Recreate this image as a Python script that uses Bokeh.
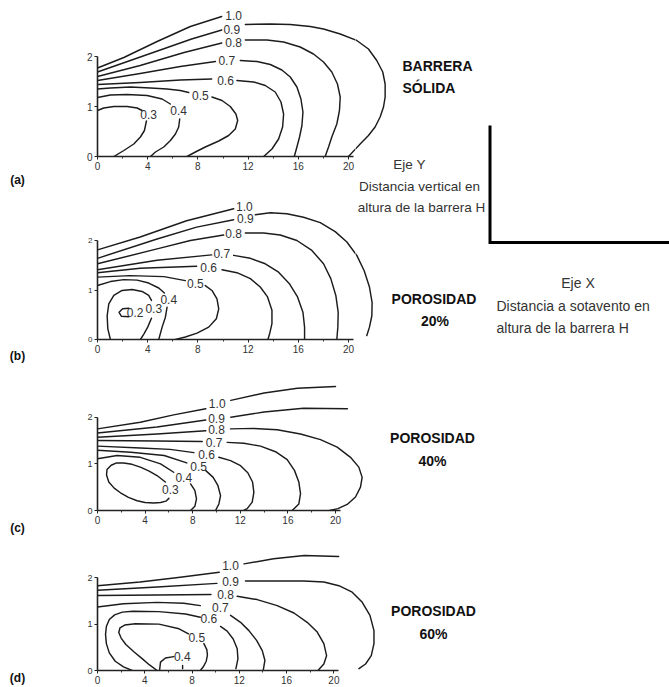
from math import nan
import numpy as np
from bokeh.plotting import figure
from bokeh.models import Label, Range1d, FixedTicker
from bokeh.layouts import row, column
from bokeh.embed import file_html
from bokeh.resources import INLINE

# ---------------- axis ticks ----------------
X_TICKS = [0, 4, 8, 12, 16, 20]
X_MINOR = [2, 6, 10, 14, 18]
Y_TICKS = [0, 1, 2]

# ---------------- (a) barrera sólida : contour lines (x: distance/H, y: height/H) --------
a_10_x = [0, 2.1, 4.75, 7.4, 9.9]
a_10_y = [1.77, 1.98, 2.3, 2.6, 2.8]
a_09_x = [0, 2.5, 5.0, 7.5, 9.9, nan, 11.78, 13.77, 15.36, 16.95, 18.01, 19.34, 20.66, 21.59,
          22.25, 22.73, 22.92, 22.92, 22.79, 22.52, 22.12, 21.59, 20.93, 20.0]
a_09_y = [1.69, 1.91, 2.13, 2.35, 2.53, nan, 2.64, 2.65, 2.64, 2.6, 2.55, 2.45, 2.32, 2.15,
          1.92, 1.69, 1.45, 1.19, 0.99, 0.79, 0.59, 0.42, 0.25, 0.0]
a_08_x = [0, 3.4, 6.9, 9.9, nan, 11.78, 13.5, 14.83, 16.15, 17.21, 18.01, 18.67, 19.12, 19.34,
          19.28, 19.07, 18.67, 18.41, 18.14]
a_08_y = [1.6, 1.82, 2.08, 2.27, nan, 2.33, 2.33, 2.29, 2.19, 2.05, 1.89, 1.69, 1.45, 1.19,
          0.92, 0.65, 0.39, 0.19, 0.0]
a_07_x = [0, 3.4, 6.6, 9.4, nan, 11.38, 12.71, 13.77, 14.69, 15.36, 15.89, 16.21, 16.37, 16.29,
          16.1, 15.89, 15.68]
a_07_y = [1.52, 1.66, 1.8, 1.9, nan, 1.92, 1.9, 1.84, 1.73, 1.59, 1.39, 1.15, 0.89, 0.62,
          0.39, 0.19, 0.0]
a_06_x = [0, 3.4, 6.6, 9.1, nan, 11.11, 12.44, 13.37, 14.16, 14.62, 14.83, 14.75, 14.43, 13.9, 13.24]
a_06_y = [1.44, 1.48, 1.53, 1.55, nan, 1.52, 1.49, 1.42, 1.29, 1.09, 0.85, 0.59, 0.35, 0.15, 0.0]
a_05_x = [0, 1.03, 2.63, 4.22, 5.54, 6.6, 7.27, nan, 9.12, 9.92, 10.58, 11.03, 11.17, 10.98,
          10.45, 9.66, 8.59, 7.8, 7.14]
a_05_y = [1.35, 1.37, 1.39, 1.37, 1.35, 1.32, 1.28, nan, 1.19, 1.12, 1.0, 0.85, 0.72, 0.55,
          0.42, 0.31, 0.19, 0.09, 0.0]
a_04_x = [0, 1.03, 2.36, 3.95, 5.15, 5.8, nan, 6.55, 6.47, 6.21, 5.81, 5.28, 4.62, 4.22]
a_04_y = [1.18, 1.23, 1.24, 1.22, 1.15, 1.05, nan, 0.75, 0.59, 0.45, 0.32, 0.19, 0.09, 0.0]
a_03_x = [0, 0.5, 1.3, 2.36, 3.16, 3.55, nan, 3.9, 3.74, 3.42, 2.89, 2.1, 1.3]
a_03_y = [0.92, 0.97, 1.0, 1.0, 0.97, 0.92, nan, 0.71, 0.52, 0.39, 0.25, 0.12, 0.0]
a_lab_t = ["1.0", "0.9", "0.8", "0.7", "0.6", "0.5", "0.4", "0.3"]
a_lab_x = [10.85, 10.7, 10.85, 10.3, 10.2, 8.2, 6.47, 4.08]
a_lab_y = [2.82, 2.55, 2.29, 1.92, 1.53, 1.22, 0.92, 0.85]

# ---------------- (b) porosidad 20% ----------------
b_10_x = [0, 3.4, 7.1, 10.85]
b_10_y = [1.81, 2.07, 2.4, 2.64]
b_09_x = [0, 4.75, 7.9, 10.85, nan, 12.57, 13.77, 15.09, 16.42, 17.75, 18.94, 19.87, 20.66,
          21.25, 21.67, 21.88, 21.86, 21.67, 21.46]
b_09_y = [1.64, 2.03, 2.27, 2.42, nan, 2.52, 2.56, 2.54, 2.47, 2.36, 2.18, 1.97, 1.7,
          1.39, 1.06, 0.75, 0.48, 0.25, 0.08]
b_08_x = [0, 4.75, 7.4, 10.05, nan, 11.78, 13.24, 14.56, 15.89, 17.08, 18.01, 18.59, 18.99,
          19.18, 19.15, 19.07]
b_08_y = [1.53, 1.83, 2.0, 2.11, nan, 2.15, 2.15, 2.11, 2.0, 1.8, 1.53, 1.23, 0.89,
          0.55, 0.25, 0.0]
b_07_x = [0, 4.75, 9.1, nan, 10.85, 12.18, 13.37, 14.43, 15.31, 15.94, 16.37, 16.5, 16.5]
b_07_y = [1.41, 1.6, 1.71, nan, 1.7, 1.64, 1.53, 1.36, 1.12, 0.86, 0.55, 0.25, 0.0]
b_06_x = [0, 3.4, 7.9, nan, 9.92, 11.11, 12.18, 12.97, 13.55, 13.9, 13.9, 13.71, 13.58]
b_06_y = [1.35, 1.44, 1.48, nan, 1.41, 1.35, 1.23, 1.06, 0.86, 0.59, 0.32, 0.11, 0.0]
b_05_x = [0, 2.6, 5.3, 7.0, nan, 8.59, 9.12, 9.52, 9.66, 9.47, 8.86, 7.93, 7.0, 6.21]
b_05_y = [1.26, 1.29, 1.27, 1.19, nan, 1.09, 0.99, 0.82, 0.62, 0.42, 0.25, 0.13, 0.05, 0.0]
b_04_x = [0, 1.03, 2.1, 3.16, 4.08, 4.88, 5.33, nan, 5.54, 5.41, 5.15, 4.88]
b_04_y = [1.09, 1.17, 1.21, 1.2, 1.14, 1.04, 0.94, nan, 0.65, 0.45, 0.25, 0.0]
b_03_x = [1.03, 0.82, 0.77, 0.9, 1.3, 1.96, 2.76, 3.55, 4.08, 4.3, nan, 4.3, 4.0, 3.69, 3.42]
b_03_y = [0.0, 0.22, 0.48, 0.72, 0.89, 0.99, 1.01, 0.97, 0.89, 0.79, nan, 0.43, 0.25, 0.11, 0.0]
b_02_x = [2.5, 2.0, 1.72, 1.9, 2.5]
b_02_y = [0.63, 0.62, 0.55, 0.47, 0.46]
b_lab_t = ["1.0", "0.9", "0.8", "0.7", "0.6", "0.5", "0.4", "0.3", "0.2"]
b_lab_x = [11.7, 11.78, 10.85, 9.9, 8.86, 7.8, 5.68, 4.48, 3.0]
b_lab_y = [2.69, 2.45, 2.15, 1.73, 1.46, 1.14, 0.81, 0.62, 0.54]

# ---------------- (c) porosidad 40% ----------------
c_10_x = [0, 3.6, 6.4, 9.1, nan, 11.2, 14.0, 16.8, 20.0]
c_10_y = [1.75, 1.89, 2.05, 2.18, nan, 2.36, 2.52, 2.62, 2.66]
c_09_x = [0, 5.0, 9.1, nan, 11.2, 14.0, 17.3, 21.0]
c_09_y = [1.66, 1.79, 1.94, nan, 2.0, 2.11, 2.19, 2.18]
c_08_x = [0, 5.0, 9.1, nan, 11.18, 13.14, 15.1, 17.06, 18.74, 20.14, 21.26, 21.96, 22.24,
          22.1, 21.68, 20.98, 20.2, 19.5]
c_08_y = [1.57, 1.64, 1.71, nan, 1.75, 1.76, 1.73, 1.64, 1.52, 1.36, 1.14, 0.93, 0.71,
          0.5, 0.29, 0.13, 0.04, 0.0]
c_07_x = [0, 5.0, 8.8, nan, 10.9, 12.3, 13.7, 14.96, 15.94, 16.55, 16.92, 17.06, 16.92, 16.36]
c_07_y = [1.5, 1.49, 1.48, nan, 1.46, 1.44, 1.38, 1.26, 1.09, 0.86, 0.61, 0.36, 0.14, 0.0]
c_06_x = [0, 3.6, 6.1, 8.1, nan, 10.2, 11.18, 12.02, 12.63, 13.03, 13.14, 13.0, 12.58, 12.3]
c_06_y = [1.38, 1.34, 1.31, 1.24, nan, 1.14, 1.07, 0.96, 0.81, 0.61, 0.39, 0.18, 0.04, 0.0]
c_05_x = [0, 2.8, 5.6, 7.5, nan, 9.08, 9.72, 10.11, 10.34, 10.2, 9.92]
c_05_y = [1.29, 1.25, 1.18, 1.02, nan, 0.86, 0.71, 0.54, 0.32, 0.14, 0.0]
c_04_x = [0, 1.65, 3.6, 5.3, 6.4, nan, 7.82, 8.18, 8.32, 8.18, 7.82]
c_04_y = [1.11, 1.18, 1.14, 1.0, 0.82, nan, 0.57, 0.43, 0.25, 0.09, 0.0]
c_03_x = [5.7, 5.0, 4.3, 3.6, 2.9, 2.2, 1.6, 1.15, 0.8, 0.76, 0.95, 1.4, 1.93, 2.6, 3.33,
          4.0, 4.73, 5.3, 5.75, 6.0]
c_03_y = [0.61, 0.75, 0.85, 0.93, 0.99, 1.02, 1.02, 0.97, 0.88, 0.76, 0.61, 0.48, 0.38, 0.28,
          0.21, 0.17, 0.16, 0.17, 0.2, 0.26]
c_lab_t = ["1.0", "0.9", "0.8", "0.7", "0.6", "0.5", "0.4", "0.3"]
c_lab_x = [10.06, 10.0, 10.0, 9.8, 9.16, 8.5, 7.25, 6.13]
c_lab_y = [2.29, 1.98, 1.74, 1.46, 1.19, 0.95, 0.71, 0.45]

# ---------------- (d) porosidad 60% ----------------
d_10_x = [0, 3.6, 7.0, 10.3, nan, 12.4, 14.9, 17.5, 20.4]
d_10_y = [1.83, 1.91, 2.01, 2.12, nan, 2.3, 2.41, 2.48, 2.46]
d_09_x = [0, 5.05, 10.1, nan, 12.52, 14.92, 17.46, 19.15, 20.42, 21.55, 22.4, 23.05, 23.39,
          23.39, 23.16, 22.68, 22.12]
d_09_y = [1.73, 1.8, 1.88, nan, 1.93, 1.93, 1.93, 1.91, 1.83, 1.69, 1.47, 1.19, 0.86,
          0.58, 0.32, 0.14, 0.04]
d_08_x = [0, 5.0, 9.6, nan, 11.82, 13.51, 15.2, 16.62, 17.74, 18.59, 19.15, 19.38, 19.15, 18.65]
d_08_y = [1.62, 1.63, 1.64, nan, 1.6, 1.53, 1.4, 1.24, 1.04, 0.83, 0.58, 0.32, 0.14, 0.0]
d_07_x = [0, 2.2, 5.05, 7.3, 8.7, nan, 11.26, 12.1, 12.81, 13.46, 13.94, 14.16, 14.02]
d_07_y = [1.37, 1.44, 1.47, 1.45, 1.4, nan, 1.19, 1.04, 0.86, 0.65, 0.43, 0.22, 0.0]
d_06_x = [2.93, 2.2, 1.5, 1.0, 0.75, 0.68, 0.75, 1.0, 1.45, 2.1, 3.0, 5.2, 7.45, 8.7, nan,
          10.41, 10.97, 11.48, 11.82, 11.88, 11.71]
d_06_y = [0.0, 0.08, 0.2, 0.38, 0.58, 0.78, 0.95, 1.1, 1.2, 1.26, 1.28, 1.27, 1.22, 1.15, nan,
          0.95, 0.85, 0.68, 0.47, 0.25, 0.04]
d_05_x = [5.05, 4.4, 3.8, 3.1, 2.4, 2.0, 1.8, 1.9, 2.3, 3.2, 5.2, 6.9, 7.7, nan,
          9.0, 9.25, 9.3, 9.2, 8.95, 8.7]
d_05_y = [0.0, 0.12, 0.25, 0.4, 0.56, 0.7, 0.82, 0.92, 0.98, 1.01, 1.0, 0.9, 0.79, nan,
          0.58, 0.45, 0.33, 0.2, 0.08, 0.0]
d_04_x = [5.25, 5.33, 5.75, 6.45, nan, 7.2, 7.2]
d_04_y = [0.0, 0.18, 0.27, 0.3, nan, 0.11, 0.04]
d_lab_t = ["1.0", "0.9", "0.8", "0.7", "0.6", "0.5", "0.4"]
d_lab_x = [11.25, 11.25, 10.83, 10.4, 9.42, 8.4, 7.17]
d_lab_y = [2.27, 1.93, 1.65, 1.37, 1.12, 0.72, 0.3]

# ---------------- layout (pixel geometry of each panel) ----------------
W, H = 669, 687
LETTER_W = 60        # left strip for (a)...(d)
LEFT_END = 487       # end of panel column / start of the right-hand strip
FRAME_L = 97         # pixel position of x = 0
PANELS = {
    "a": dict(top=0, height=195, y0=156, ppx=12.55, ppy=50.0, split=355),
    "b": dict(top=195, height=170, y0=339, ppx=12.55, ppy=49.5, split=355),
    "c": dict(top=365, height=170, y0=510, ppx=11.9, ppy=46.65, split=None),
    "d": dict(top=535, height=152, y0=670, ppx=11.82, ppy=46.35, split=None),
}
FONT = "Liberation Sans"
LINE_COLOR = "#1c1c1c"


def blank(p):
    p.outline_line_color = None
    p.xgrid.visible = False
    p.ygrid.visible = False
    p.background_fill_color = "white"
    p.border_fill_color = "white"
    p.frame_align = False


def draw_lines(p, contours):
    for xs, ys in contours:
        p.line(np.array(xs, dtype=float), np.array(ys, dtype=float),
               line_color=LINE_COLOR, line_width=1.45, line_join="round", line_cap="round")


def make_panel(key, contours, lab_x, lab_y, lab_t, lab_size, ytick_size, xtick_size):
    g = PANELS[key]
    right = g["split"] or LEFT_END
    frame_h = g["y0"] - g["top"]
    p = figure(width=right - LETTER_W, height=g["height"], output_backend="svg",
               toolbar_location=None,
               x_range=Range1d(0, (right - FRAME_L) / g["ppx"]),
               y_range=Range1d(0, frame_h / g["ppy"]),
               min_border_left=FRAME_L - LETTER_W, min_border_right=0, min_border_top=0,
               min_border_bottom=g["top"] + g["height"] - g["y0"])
    blank(p)
    p.xaxis.ticker = FixedTicker(ticks=X_TICKS, minor_ticks=X_MINOR)
    p.yaxis.ticker = FixedTicker(ticks=Y_TICKS, minor_ticks=[])
    p.xaxis.bounds = (0, 20.4)
    p.yaxis.bounds = (0, 2)
    for ax in (p.xaxis[0], p.yaxis[0]):
        ax.axis_line_color = "#222"
        ax.axis_line_width = 1.6
        ax.major_tick_line_color = "#222"
        ax.minor_tick_line_color = "#333"
        ax.major_tick_in = 0
        ax.major_tick_out = 3
        ax.minor_tick_in = 0
        ax.minor_tick_out = 2
        ax.major_label_standoff = 2
        ax.major_label_text_font = FONT
        ax.major_label_text_color = "#333"
    p.xaxis.major_label_text_font_size = xtick_size
    p.yaxis.major_label_text_font_size = ytick_size
    draw_lines(p, contours)
    for x, y, t in zip(lab_x, lab_y, lab_t):
        p.add_layout(Label(x=x, y=y, text=t, text_align="center", text_baseline="middle",
                           text_font=FONT, text_font_size=lab_size, text_color="#333"))
    if g["split"] is None:
        return p, p, p
    # continuation of the same panel to the right of the axis (same data scale)
    q = figure(width=LEFT_END - g["split"], height=g["height"], output_backend="svg",
               toolbar_location=None, x_axis_location=None, y_axis_location=None,
               x_range=Range1d((g["split"] - FRAME_L) / g["ppx"], (LEFT_END - FRAME_L) / g["ppx"]),
               y_range=Range1d((g["y0"] - g["top"] - g["height"]) / g["ppy"], frame_h / g["ppy"]),
               min_border_left=0, min_border_right=0, min_border_top=0, min_border_bottom=0)
    blank(q)
    draw_lines(q, contours)
    return row(p, q), p, q


def note(p, key, px, py, text, size="14px", bold=False, align="center", color="#111"):
    g = PANELS[key]
    p.add_layout(Label(x=(px - FRAME_L) / g["ppx"], y=(g["y0"] - py) / g["ppy"], text=text,
                       text_align=align, text_baseline="middle", text_font=FONT,
                       text_font_size=size, text_font_style="bold" if bold else "normal",
                       text_color=color))


la, pa, qa = make_panel("a", [(a_10_x, a_10_y), (a_09_x, a_09_y), (a_08_x, a_08_y), (a_07_x, a_07_y),
                              (a_06_x, a_06_y), (a_05_x, a_05_y), (a_04_x, a_04_y), (a_03_x, a_03_y)],
                        a_lab_x, a_lab_y, a_lab_t, "12px", "10px", "10px")
lb, pb, qb = make_panel("b", [(b_10_x, b_10_y), (b_09_x, b_09_y), (b_08_x, b_08_y), (b_07_x, b_07_y),
                              (b_06_x, b_06_y), (b_05_x, b_05_y), (b_04_x, b_04_y), (b_03_x, b_03_y),
                              (b_02_x, b_02_y)],
                        b_lab_x, b_lab_y, b_lab_t, "12px", "8px", "10px")
lc, pc, qc = make_panel("c", [(c_10_x, c_10_y), (c_09_x, c_09_y), (c_08_x, c_08_y), (c_07_x, c_07_y),
                              (c_06_x, c_06_y), (c_05_x, c_05_y), (c_04_x, c_04_y), (c_03_x, c_03_y)],
                        c_lab_x, c_lab_y, c_lab_t, "12px", "9px", "10px")
ld, pd_, qd = make_panel("d", [(d_10_x, d_10_y), (d_09_x, d_09_y), (d_08_x, d_08_y), (d_07_x, d_07_y),
                               (d_06_x, d_06_y), (d_05_x, d_05_y), (d_04_x, d_04_y)],
                         d_lab_x, d_lab_y, d_lab_t, "12px", "9px", "10px")

# captions next to the panels
note(qa, "a", 402, 65, "BARRERA", bold=True, align="left")
note(qa, "a", 402, 87, "SÓLIDA", bold=True, align="left")
note(qa, "a", 409, 164, "Eje Y", size="13.5px", color="#333")
note(qa, "a", 419, 186, "Distancia vertical en", size="13.5px", color="#333")
note(qb, "b", 421, 207, "altura de la barrera H", size="13.5px", color="#333")
note(qb, "b", 433.5, 298, "POROSIDAD", bold=True)
note(qb, "b", 434.5, 320, "20%", bold=True)
note(qc, "c", 432, 437, "POROSIDAD", bold=True)
note(qc, "c", 432, 460, "40%", bold=True)
note(qd, "d", 433, 610, "POROSIDAD", bold=True)
note(qd, "d", 433, 633, "60%", bold=True)


def strip(x0, x1):
    s = figure(width=x1 - x0, height=H, output_backend="svg", toolbar_location=None,
               x_range=Range1d(x0, x1), y_range=Range1d(H, 0),
               x_axis_location=None, y_axis_location=None,
               min_border_left=0, min_border_right=0, min_border_top=0, min_border_bottom=0)
    blank(s)
    return s


# left strip: panel letters
ps = strip(0, LETTER_W)
for t, y in [("(a)", 179), ("(b)", 355), ("(c)", 527), ("(d)", 677)]:
    ps.add_layout(Label(x=17, y=y, text=t, text_align="center", text_baseline="middle",
                        text_font=FONT, text_font_size="12px", text_font_style="bold",
                        text_color="#111"))

# right strip: axis legend
pr = strip(LEFT_END, W)
pr.line([489.5, 489.5, W], [125, 242, 242], line_color="black", line_width=3, line_join="miter")
for x, y, t, al in [(577.5, 282, "Eje X", "center"),
                    (496, 305, "Distancia a sotavento en", "left"),
                    (496, 327, "altura de la barrera H", "left")]:
    pr.add_layout(Label(x=x, y=y, text=t, text_align=al, text_baseline="middle",
                        text_font=FONT, text_font_size="14px", text_color="#333"))

layout = row(ps, column(la, lb, lc, ld), pr)
open("out.html", "w").write(file_html(layout, INLINE))
